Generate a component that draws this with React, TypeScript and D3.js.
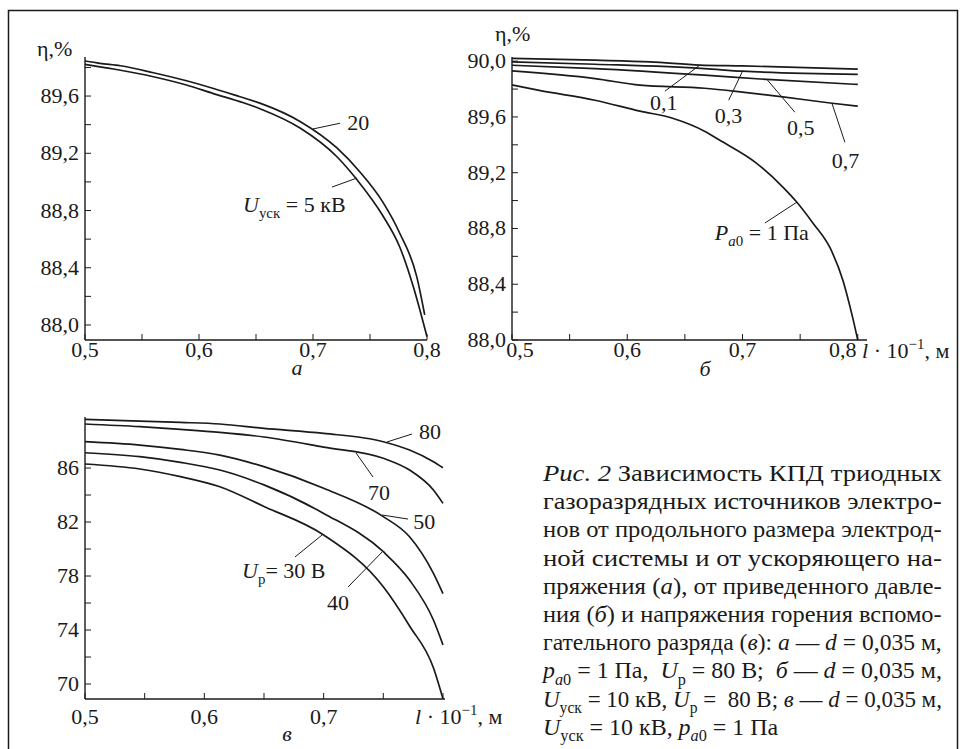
import React, { useEffect, useRef } from 'react';
import * as d3 from 'd3';

// --- data (l in 10^-1 m, η in %) ---

// а: accelerating voltage 20 kV and 5 kV
const etaA20: [number, number][] = [
  [0.5, 89.845], [0.513, 89.829], [0.531, 89.812], [0.56, 89.763], [0.589, 89.707],
  [0.612, 89.655], [0.636, 89.595], [0.654, 89.549], [0.689, 89.421], [0.721, 89.237],
  [0.741, 89.071], [0.761, 88.862], [0.776, 88.643], [0.791, 88.338], [0.798, 88.07],
];
const etaA5: [number, number][] = [
  [0.5, 89.822], [0.525, 89.789], [0.56, 89.735], [0.589, 89.677], [0.612, 89.619],
  [0.639, 89.553], [0.654, 89.51], [0.689, 89.375], [0.721, 89.176], [0.739, 89.011],
  [0.761, 88.767], [0.776, 88.547], [0.788, 88.268], [0.8, 87.918],
];

// б: pressure 0.1 ... 1 Pa
const etaB01: [number, number][] = [
  [0.5, 90.02], [0.572, 90.007], [0.62, 89.995], [0.663, 89.972], [0.7, 89.966], [0.8, 89.943],
];
const etaB03: [number, number][] = [
  [0.5, 89.995], [0.572, 89.978], [0.667, 89.947], [0.7, 89.928], [0.8, 89.905],
];
const etaB05: [number, number][] = [
  [0.5, 89.971], [0.572, 89.947], [0.667, 89.9], [0.721, 89.869], [0.8, 89.833],
];
const etaB07: [number, number][] = [
  [0.5, 89.93], [0.572, 89.875], [0.611, 89.828], [0.667, 89.806], [0.698, 89.78],
  [0.735, 89.744], [0.776, 89.7], [0.8, 89.677],
];
const etaB1: [number, number][] = [
  [0.5, 89.83], [0.5225, 89.792], [0.572, 89.72], [0.611, 89.642], [0.64, 89.589],
  [0.667, 89.498], [0.68, 89.434], [0.712, 89.269], [0.735, 89.097], [0.747, 88.99],
  [0.761, 88.84], [0.776, 88.66], [0.787, 88.43], [0.795, 88.18], [0.8, 88.0],
];

// в: discharge voltage 80 ... 30 V
const etaC80: [number, number][] = [
  [0.5, 89.6], [0.546, 89.48], [0.58, 89.38], [0.613, 89.26], [0.65, 88.94], [0.7, 88.57],
  [0.75, 87.95], [0.772, 87.33], [0.792, 86.47], [0.8, 86.02],
];
const etaC70: [number, number][] = [
  [0.5, 89.26], [0.546, 89.06], [0.58, 88.86], [0.613, 88.64], [0.65, 88.3], [0.7, 87.55],
  [0.75, 86.72], [0.772, 85.85], [0.792, 84.37], [0.8, 83.38],
];
const etaC50: [number, number][] = [
  [0.5, 87.95], [0.546, 87.7], [0.58, 87.38], [0.613, 86.96], [0.65, 86.1], [0.7, 84.5],
  [0.75, 82.4], [0.772, 80.91], [0.792, 78.2], [0.8, 76.7],
];
const etaC40: [number, number][] = [
  [0.5, 87.13], [0.546, 86.84], [0.58, 86.42], [0.613, 85.85], [0.65, 84.75], [0.7, 82.64],
  [0.75, 79.8], [0.772, 77.7], [0.792, 74.74], [0.8, 72.9],
];
const etaC30: [number, number][] = [
  [0.5, 86.3], [0.546, 85.93], [0.58, 85.36], [0.613, 84.61], [0.65, 83.15], [0.7, 81.04],
  [0.75, 77.2], [0.772, 74.3], [0.792, 71.2], [0.8, 68.9],
];

// ticks
const xTicksAB = [0.5, 0.55, 0.6, 0.65, 0.7, 0.75, 0.8];
const xLabelsA = [0.5, 0.6, 0.7, 0.8];
const xLabelsB = [0.5, 0.6, 0.7, 0.8];
const xTicksC = [0.5, 0.55, 0.6, 0.65, 0.7, 0.75, 0.8];
const xLabelsC = [0.5, 0.6, 0.7];
const yTicksA = [88.0, 88.2, 88.4, 88.6, 88.8, 89.0, 89.2, 89.4, 89.6, 89.8];
const yLabelsA = [88.0, 88.4, 88.8, 89.2, 89.6];
const yTicksB = [88.0, 88.2, 88.4, 88.6, 88.8, 89.0, 89.2, 89.4, 89.6, 89.8, 90.0];
const yLabelsB = [88.0, 88.4, 88.8, 89.2, 89.6, 90.0];
const yTicksC = [70, 72, 74, 76, 78, 80, 82, 84, 86];
const yLabelsC = [70, 74, 78, 82, 86];

type Seg = { t: string; i?: boolean; sub?: boolean; sup?: boolean };
type Note = { segs: Seg[]; at: [number, number]; line: [number, number][] };

// curve labels with leader lines (data coordinates)
const notesA: Note[] = [
  { segs: [{ t: '20' }], at: [0.73, 89.363], line: [[0.7, 89.37], [0.7237, 89.41]] },
  {
    segs: [{ t: 'U', i: true }, { t: 'уск', sub: true }, { t: ' = 5 кВ' }],
    at: [0.6386, 88.79], line: [[0.7167, 88.964], [0.7386, 89.027]],
  },
];
const notesB: Note[] = [
  { segs: [{ t: '0,1' }], at: [0.6197, 89.649], line: [[0.6327, 89.785], [0.663, 89.972]] },
  { segs: [{ t: '0,3' }], at: [0.676, 89.556], line: [[0.688, 89.72], [0.7, 89.928]] },
  { segs: [{ t: '0,5' }], at: [0.7385, 89.47], line: [[0.7454, 89.634], [0.7212, 89.869]] },
  { segs: [{ t: '0,7' }], at: [0.7775, 89.233], line: [[0.7888, 89.419], [0.7775, 89.7]] },
  {
    segs: [{ t: 'P', i: true }, { t: 'a', i: true, sub: true }, { t: '0', sub: true }, { t: ' = 1 Па' }],
    at: [0.676, 88.717], line: [[0.7194, 88.839], [0.7472, 88.989]],
  },
];
const notesC: Note[] = [
  { segs: [{ t: '80' }], at: [0.78, 88.15], line: [[0.7531, 87.93], [0.7741, 88.52]] },
  { segs: [{ t: '70' }], at: [0.7372, 83.63], line: [[0.7272, 87.11], [0.7414, 85.33]] },
  { segs: [{ t: '50' }], at: [0.775, 81.48], line: [[0.749, 82.52], [0.7707, 82.22]] },
  { segs: [{ t: '40' }], at: [0.7028, 75.48], line: [[0.7205, 77.19], [0.749, 79.78]] },
  {
    segs: [{ t: 'U', i: true }, { t: 'р', sub: true }, { t: '= 30 В' }],
    at: [0.6316, 77.85], line: [[0.676, 79.41], [0.6987, 81.04]],
  },
];

const unitSegs: Seg[] = [{ t: 'l', i: true }, { t: ' · 10' }, { t: '−1', sup: true }, { t: ', м' }];

const captionLines: Seg[][] = [
  [{ t: 'Рис. 2', i: true }, { t: ' Зависимость КПД триодных' }],
  [{ t: 'газоразрядных источников электро-' }],
  [{ t: 'нов от продольного размера электрод-' }],
  [{ t: 'ной системы и от ускоряющего на-' }],
  [{ t: 'пряжения (' }, { t: 'а', i: true }, { t: '), от приведенного давле-' }],
  [{ t: 'ния (' }, { t: 'б', i: true }, { t: ') и напряжения горения вспомо-' }],
  [{ t: 'гательного разряда (' }, { t: 'в', i: true }, { t: '): ' }, { t: 'а', i: true }, { t: ' — ' }, { t: 'd', i: true }, { t: ' = 0,035 м,' }],
  [{ t: 'p', i: true }, { t: 'a', i: true, sub: true }, { t: '0', sub: true }, { t: ' = 1 Па,  ' }, { t: 'U', i: true }, { t: 'р', sub: true }, { t: ' = 80 В;  ' }, { t: 'б', i: true }, { t: ' — ' }, { t: 'd', i: true }, { t: ' = 0,035 м,' }],
  [{ t: 'U', i: true }, { t: 'уск', sub: true }, { t: ' = 10 кВ, ' }, { t: 'U', i: true }, { t: 'р', sub: true }, { t: ' =  80 В; ' }, { t: 'в', i: true }, { t: ' — ' }, { t: 'd', i: true }, { t: ' = 0,035 м,' }],
  [{ t: 'U', i: true }, { t: 'уск', sub: true }, { t: ' = 10 кВ, ' }, { t: 'p', i: true }, { t: 'a', i: true, sub: true }, { t: '0', sub: true }, { t: ' = 1 Па' }],
];

const FONT = 'Liberation Serif';
const INK = '#1a1a1a';

// text made of plain / italic / sub / superscript runs; optional justification to `width`
// (glyphs widened a little, the rest goes into the word gaps)
const Rich = ({ segs, x, y, size = 22, anchor = 'start', width, widen = 1 }: any) => {
  const ref = useRef<SVGTextElement>(null);
  useEffect(() => {
    const el = ref.current;
    if (!el) return;
    el.setAttribute('word-spacing', '0');
    el.removeAttribute('transform');
    const natural = el.getComputedTextLength();
    let k = widen;
    if (width) k = Math.min(width / natural, widen);
    if (k !== 1) el.setAttribute('transform', `matrix(${k},0,0,1,${x * (1 - k)},0)`);
    if (width) {
      const spaces = segs.map((s: Seg) => s.t).join('').split(' ').length - 1;
      if (spaces > 0) el.setAttribute('word-spacing', String(Math.max(0, (width / k - natural) / spaces)));
    }
  }, [segs, width, widen, x]);
  let shift = 0;
  return (
    <text
      ref={ref}
      x={x}
      y={y}
      fontSize={size}
      fontFamily={FONT}
      textAnchor={anchor}
      fill={INK}
      style={{ whiteSpace: 'pre' }}
    >
      {segs.map((s: Seg, i: number) => {
        const target = s.sub ? size * 0.27 : s.sup ? -size * 0.42 : 0;
        const dy = target - shift;
        shift = target;
        return (
          <tspan
            key={i}
            dy={dy}
            fontFamily={FONT}
            fontStyle={s.i ? 'italic' : undefined}
            fontSize={s.sub || s.sup ? size * 0.68 : undefined}
          >
            {s.t}
          </tspan>
        );
      })}
    </text>
  );
};

const comma = (v: number, digits: number) => v.toFixed(digits).replace('.', ',');

const Panel = ({ xDom, xRange, yDom, yRange, series, xTicks, xLabels, yTicks, yLabels, yDigits, notes, xLabelY, xLabelShift }: any) => {
  const x = d3.scaleLinear().domain(xDom).range(xRange);
  const y = d3.scaleLinear().domain(yDom).range(yRange);
  const line = d3
    .line<[number, number]>()
    .x(d => x(d[0]))
    .y(d => y(d[1]))
    .curve(d3.curveMonotoneX);
  const x0 = xRange[0];
  const y0 = yRange[0];
  return (
    <g>
      {/* axes */}
      <line x1={x0} x2={x0} y1={yRange[1]} y2={y0} stroke={INK} strokeWidth={1.4} />
      <line x1={x0} x2={xRange[1]} y1={y0} y2={y0} stroke={INK} strokeWidth={1.4} />
      {yTicks.map((t: number) => (
        <line key={'yt' + t} x1={x0} x2={x0 + 6} y1={y(t)} y2={y(t)} stroke={INK} strokeWidth={1} />
      ))}
      {xTicks.map((t: number) => (
        <line key={'xt' + t} x1={x(t)} x2={x(t)} y1={y0} y2={y0 - 6} stroke={INK} strokeWidth={1} />
      ))}
      {yLabels.map((t: number) => (
        <text key={'yl' + t} x={x0 - 6} y={y(t) + 7} fontSize={22} fontFamily={FONT} textAnchor="end" fill={INK}>
          {comma(t, yDigits)}
        </text>
      ))}
      {xLabels.map((t: number, i: number) => (
        <text
          key={'xl' + t}
          x={x(t) + ((xLabelShift && xLabelShift[i]) || 0)}
          y={xLabelY}
          fontSize={22}
          fontFamily={FONT}
          textAnchor="middle"
          fill={INK}
        >
          {comma(t, 1)}
        </text>
      ))}
      {/* curves */}
      {series.map((s: [number, number][], i: number) => (
        <path key={'s' + i} d={line(s) || ''} fill="none" stroke={INK} strokeWidth={1.7} />
      ))}
      {/* curve labels */}
      {notes.map((n: Note, i: number) => (
        <g key={'n' + i}>
          <line
            x1={x(n.line[0][0])}
            y1={y(n.line[0][1])}
            x2={x(n.line[1][0])}
            y2={y(n.line[1][1])}
            stroke={INK}
            strokeWidth={1}
          />
          <Rich segs={n.segs} x={x(n.at[0])} y={y(n.at[1])} />
        </g>
      ))}
    </g>
  );
};

export default function App() {
  return (
    <svg
      width={960}
      height={749}
      fontFamily={FONT}
      style={{ position: 'absolute', left: 0, top: 0, background: '#fff' }}
    >
      <rect x={8.5} y={10.5} width={949} height={760} fill="none" stroke={INK} strokeWidth={1.5} />

      {/* а */}
      <Panel
        xDom={[0.5, 0.8]} xRange={[85, 427]}
        yDom={[87.895, 89.873]} yRange={[340, 57]}
        series={[etaA20, etaA5]}
        xTicks={xTicksAB} xLabels={xLabelsA}
        yTicks={yTicksA} yLabels={yLabelsA} yDigits={1}
        notes={notesA} xLabelY={357}
      />
      <text x={37} y={56} fontSize={22} fontFamily={FONT} fill={INK}>η,%</text>
      <text x={297} y={375} fontSize={22} fontFamily={FONT} fontStyle="italic" textAnchor="middle" fill={INK}>а</text>

      {/* б */}
      <Panel
        xDom={[0.5, 0.808]} xRange={[512, 867]}
        yDom={[88, 90.03]} yRange={[340, 57]}
        series={[etaB01, etaB03, etaB05, etaB07, etaB1]}
        xTicks={xTicksAB} xLabels={xLabelsB} xLabelShift={[8, 0, 0, -15]}
        yTicks={yTicksB} yLabels={yLabelsB} yDigits={1}
        notes={notesB} xLabelY={357}
      />
      <text x={495} y={41} fontSize={22} fontFamily={FONT} fill={INK}>η,%</text>
      <Rich segs={unitSegs} x={862} y={358} />
      <text x={705} y={376} fontSize={22} fontFamily={FONT} fontStyle="italic" textAnchor="middle" fill={INK}>б</text>

      {/* в */}
      <Panel
        xDom={[0.5, 0.8017]} xRange={[85, 445]}
        yDom={[68.89, 89.78]} yRange={[699, 417]}
        series={[etaC80, etaC70, etaC50, etaC40, etaC30]}
        xTicks={xTicksC} xLabels={xLabelsC}
        yTicks={yTicksC} yLabels={yLabelsC} yDigits={0}
        notes={notesC} xLabelY={724}
      />
      <Rich segs={unitSegs} x={415} y={724} />
      <text x={287} y={741} fontSize={22} fontFamily={FONT} fontStyle="italic" textAnchor="middle" fill={INK}>в</text>

      {/* caption */}
      {captionLines.map((segs, i) => (
        <Rich
          key={'c' + i}
          segs={segs}
          x={543}
          y={481 + i * 28.2}
          size={23.5}
          widen={i < captionLines.length - 1 ? 1.14 : 1.02}
          width={i < captionLines.length - 1 ? 399 : undefined}
        />
      ))}
    </svg>
  );
}
